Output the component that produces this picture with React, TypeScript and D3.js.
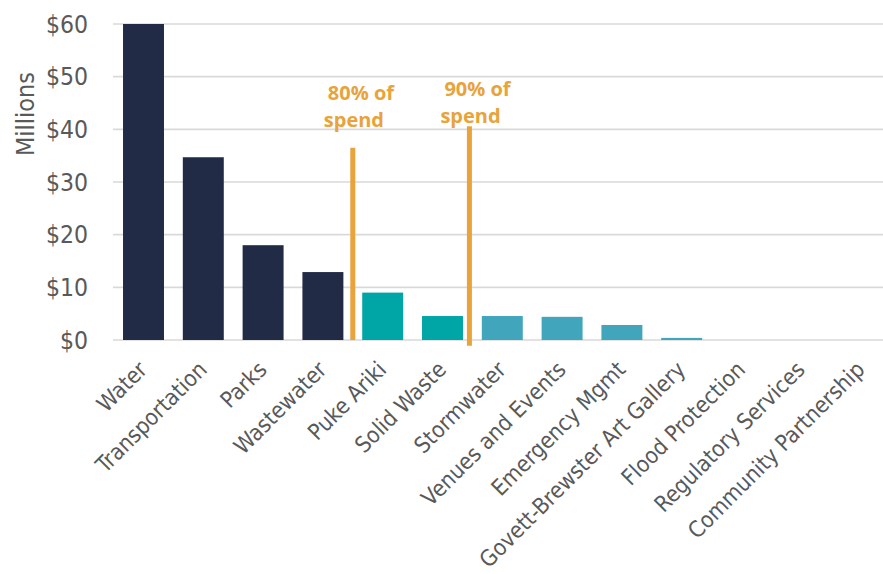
import React from "react";
import * as d3 from "d3";

const categories = [
  "Water",
  "Transportation",
  "Parks",
  "Wastewater",
  "Puke Ariki",
  "Solid Waste",
  "Stormwater",
  "Venues and Events",
  "Emergency Mgmt",
  "Govett-Brewster Art Gallery",
  "Flood Protection",
  "Regulatory Services",
  "Community Partnership",
];
const values = [60, 34.7, 18.0, 12.9, 9.0, 4.55, 4.55, 4.4, 2.85, 0.4, 0, 0, 0];
// group: 0 = top 80%, 1 = 80-90%, 2 = rest
const groups = [0, 0, 0, 0, 1, 1, 2, 2, 2, 2, 2, 2, 2];
const groupColors = ["#222B46", "#00A6A6", "#41A6BC"];

const yTicks = [0, 10, 20, 30, 40, 50, 60];

const markerLabels = [
  ["80% of", "spend"],
  ["90% of", "spend"],
];
const markerPos = [3.5, 5.45]; // in category-index units
const markerTop = [36.5, 40.6];
const markerBottom = [0, -1.1];
const markerLabelValue = [45.5, 46.3];

const W = 883;
const H = 574;
const SANS = "'DejaVu Sans Condensed', 'DejaVu Sans', sans-serif";

export default function App() {
  const x = d3
    .scaleBand<string>()
    .domain(categories)
    .range([113.6, 891])
    .paddingInner(0.315)
    .paddingOuter(0.1575);
  const y = d3.scaleLinear().domain([0, 60]).range([340, 24]);
  const step = x.step();
  const firstCenter = (x(categories[0]) as number) + x.bandwidth() / 2;
  const posX = (p: number) => firstCenter + step * p;
  const gridColor = "#D9D9D9";
  const textColor = "#595959";
  const orange = "#E8A33A";

  return (
    <svg
      width={W}
      height={H}
      style={{ position: "absolute", left: 0, top: 0, background: "#fff" }}
    >
      {yTicks.map((t) => (
        <g key={t}>
          <line x1={113} x2={W} y1={y(t)} y2={y(t)} stroke={gridColor} strokeWidth={1.6} />
          <text
            x={88}
            y={y(t)}
            dy="0.36em"
            textAnchor="end"
            style={{ fontFamily: SANS, fontSize: 24.5 }}
            fill={textColor}
          >
            {"$" + t}
          </text>
        </g>
      ))}
      <text
        transform={`translate(34,114) rotate(-90)`}
        textAnchor="middle"
        style={{ fontFamily: SANS, fontSize: 25 }}
        fill={textColor}
      >
        Millions
      </text>
      {categories.map((c, i) => {
        const h = y(0) - y(values[i]);
        return (
          <rect
            key={c}
            x={x(c) as number}
            y={y(values[i])}
            width={x.bandwidth()}
            height={Math.max(0, h)}
            fill={groupColors[groups[i]]}
          />
        );
      })}
      {categories.map((c) => {
        const cx = (x(c) as number) + x.bandwidth() / 2;
        return (
          <text
            key={c}
            transform={`translate(${cx + 5},371) rotate(-45)`}
            textAnchor="end"
            style={{ fontFamily: SANS, fontSize: 22.5 }}
            fill={textColor}
          >
            {c}
          </text>
        );
      })}
      {markerPos.map((p, i) => {
        const lx = posX(p);
        return (
          <g key={i}>
            <line
              x1={lx}
              x2={lx}
              y1={y(markerTop[i])}
              y2={y(markerBottom[i])}
              stroke={orange}
              strokeWidth={5}
            />
            <text
              x={lx - 25}
              y={y(markerLabelValue[i])}
              style={{ fontFamily: "Open Sans", fontWeight: 700, fontSize: 20 }}
              fill={orange}
            >
              <tspan>{markerLabels[i][0]}</tspan>
              <tspan x={lx - 29} dy={27}>
                {markerLabels[i][1]}
              </tspan>
            </text>
          </g>
        );
      })}
    </svg>
  );
}
